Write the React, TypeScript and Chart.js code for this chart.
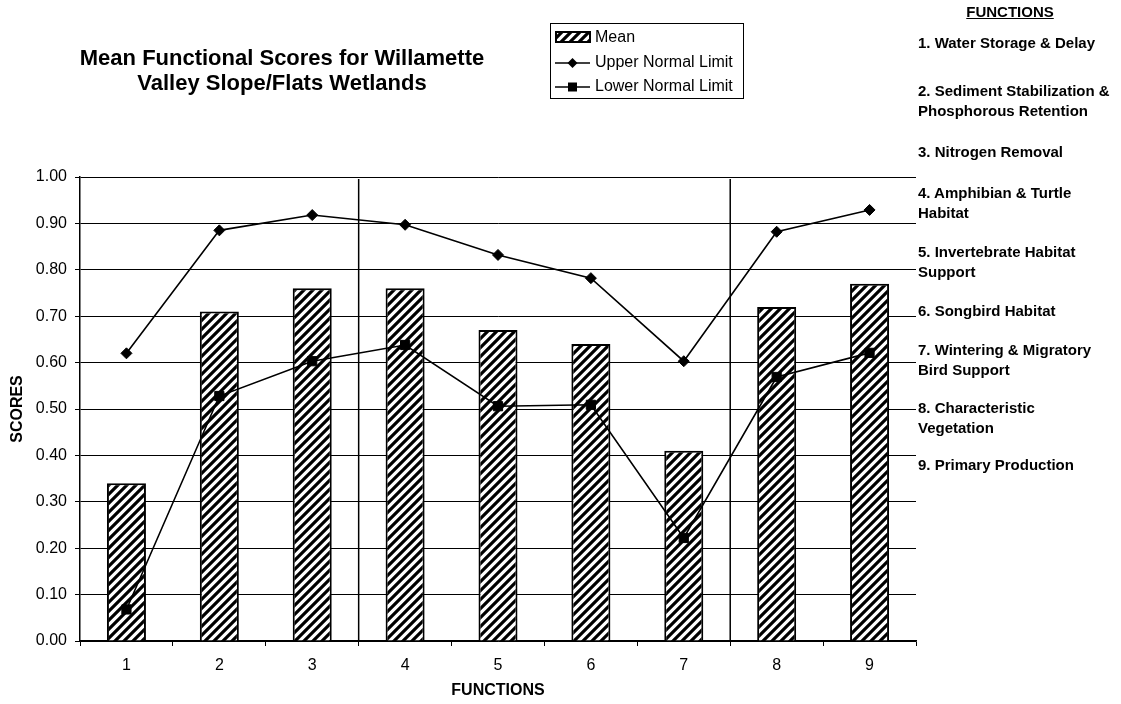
import { useEffect, useRef } from "react";
import { Chart, registerables } from "chart.js";

Chart.register(...registerables);

// ---------- data ----------
const categories = ["1", "2", "3", "4", "5", "6", "7", "8", "9"];
const meanScores = [0.34, 0.71, 0.76, 0.76, 0.67, 0.64, 0.41, 0.72, 0.77];
const upperNormalLimit = [0.62, 0.885, 0.918, 0.897, 0.832, 0.782, 0.603, 0.882, 0.929];
const lowerNormalLimit = [0.068, 0.528, 0.603, 0.638, 0.506, 0.509, 0.222, 0.569, 0.621];
const groupBreaksAfter = [3, 7];
const titleLines = ["Mean Functional Scores for Willamette", "Valley Slope/Flats Wetlands"];
const functionListTitle = "FUNCTIONS";
const functionList = [
  ["1. Water Storage & Delay"],
  ["2. Sediment Stabilization &", "Phosphorous Retention"],
  ["3. Nitrogen Removal"],
  ["4. Amphibian & Turtle", "Habitat"],
  ["5. Invertebrate Habitat", "Support"],
  ["6. Songbird Habitat"],
  ["7. Wintering & Migratory", "Bird Support"],
  ["8. Characteristic", "Vegetation"],
  ["9. Primary Production"],
];

// layout (first-line centre of each list entry)
const listCenters = [43, 91, 152, 193, 252, 311, 350, 408, 465];
const FONT = '"Liberation Sans", Arial, Helvetica, sans-serif';

function makeHatch(): CanvasPattern | string {
  const s = 9;
  const c = document.createElement("canvas");
  c.width = s;
  c.height = s;
  const g = c.getContext("2d");
  if (!g) return "#fff";
  g.fillStyle = "#fff";
  g.fillRect(0, 0, s, s);
  g.strokeStyle = "#000";
  g.lineWidth = 3.2;
  g.beginPath();
  g.moveTo(0, s);
  g.lineTo(s, 0);
  g.moveTo(-2, 2);
  g.lineTo(2, -2);
  g.moveTo(s - 2, s + 2);
  g.lineTo(s + 2, s - 2);
  g.stroke();
  const p = g.createPattern(c, "repeat");
  return p || "#000";
}

export default function App() {
  const ref = useRef<HTMLCanvasElement>(null);

  useEffect(() => {
    const canvas = ref.current;
    if (!canvas) return;
    const hatch = makeHatch();

    const separators = {
      id: "separators",
      beforeDatasetsDraw(chart: any) {
        const x = chart.scales.x;
        const { top, bottom } = chart.chartArea;
        const ctx = chart.ctx;
        ctx.save();
        ctx.strokeStyle = "#000";
        ctx.lineWidth = 1.5;
        groupBreaksAfter.forEach((b) => {
          const px = (x.getPixelForValue(b - 1) + x.getPixelForValue(b)) / 2;
          ctx.beginPath();
          ctx.moveTo(px, top + 2);
          ctx.lineTo(px, bottom);
          ctx.stroke();
        });
        ctx.restore();
      },
    };

    const boxLegend = {
      id: "boxLegend",
      afterDraw(chart: any) {
        const ctx = chart.ctx;
        const ds = chart.data.datasets;
        const mean = ds.find((d: any) => d.type === "bar");
        const lines = ds.filter((d: any) => d.type === "line");
        ctx.save();
        ctx.strokeStyle = "#000";
        ctx.lineWidth = 1;
        ctx.strokeRect(550.5, 23.5, 193, 75);
        ctx.font = `16px ${FONT}`;
        ctx.textBaseline = "middle";
        ctx.textAlign = "left";
        // bar swatch
        ctx.fillStyle = hatch as any;
        ctx.fillRect(556, 32, 34, 10);
        ctx.lineWidth = 2;
        ctx.strokeRect(556, 32, 34, 10);
        ctx.fillStyle = "#000";
        ctx.fillText(mean.label, 595, 38);
        const ys = [63, 87];
        lines.forEach((d: any, i: number) => {
          const y = ys[i];
          ctx.lineWidth = 1.6;
          ctx.beginPath();
          ctx.moveTo(555, y);
          ctx.lineTo(590, y);
          ctx.stroke();
          ctx.beginPath();
          if (d.pointStyle === "rectRot") {
            const r = 5;
            ctx.moveTo(572.5 - r, y);
            ctx.lineTo(572.5, y - r);
            ctx.lineTo(572.5 + r, y);
            ctx.lineTo(572.5, y + r);
            ctx.closePath();
          } else {
            ctx.rect(568, y - 4.5, 9, 9);
          }
          ctx.fill();
          ctx.fillText(d.label, 595, y);
        });
        ctx.restore();
      },
    };

    const chart = new Chart(canvas, {
      type: "bar",
      data: {
        labels: categories,
        datasets: [
          {
            type: "line",
            label: "Upper Normal Limit",
            data: upperNormalLimit,
            borderColor: "#000",
            backgroundColor: "#000",
            borderWidth: 1.6,
            pointStyle: "rectRot",
            pointRadius: 5.5,
            pointBorderWidth: 1,
            pointBackgroundColor: "#000",
            pointBorderColor: "#000",
            tension: 0,
            order: 0,
          } as any,
          {
            type: "line",
            label: "Lower Normal Limit",
            data: lowerNormalLimit,
            borderColor: "#000",
            backgroundColor: "#000",
            borderWidth: 1.6,
            pointStyle: "rect",
            pointRadius: 6.5,
            pointBorderWidth: 1,
            pointBackgroundColor: "#000",
            pointBorderColor: "#000",
            tension: 0,
            order: 1,
          } as any,
          {
            type: "bar",
            label: "Mean",
            data: meanScores,
            backgroundColor: hatch as any,
            borderColor: "#000",
            borderWidth: 2,
            barPercentage: 0.42,
            categoryPercentage: 1,
            order: 2,
          } as any,
        ],
      },
      options: {
        responsive: false,
        animation: false,
        layout: { padding: { top: 177, right: 205, left: 0, bottom: 0 } },
        plugins: {
          legend: { display: false },
          tooltip: { enabled: false },
          title: { display: false },
        },
        scales: {
          x: {
            type: "category",
            offset: true,
            grid: {
              offset: true,
              drawOnChartArea: false,
              drawTicks: true,
              tickLength: 5,
              color: "#000",
              lineWidth: 1,
            },
            border: { color: "#000", width: 1.5 },
            ticks: { color: "#000", font: { family: FONT, size: 16 }, padding: 10 },
            title: {
              display: true,
              text: "FUNCTIONS",
              color: "#000",
              font: { family: FONT, size: 16, weight: "bold" },
              padding: { top: 0, bottom: 4 },
            },
            afterFit: (s: any) => {
              s.height = 63;
            },
          } as any,
          y: {
            min: 0,
            max: 1,
            ticks: {
              stepSize: 0.1,
              callback: (v: any) => Number(v).toFixed(2),
              color: "#000",
              font: { family: FONT, size: 16 },
              padding: 8,
            },
            grid: { color: "#000", lineWidth: 1, tickLength: 5 },
            border: { color: "#000", width: 1.5 },
            title: {
              display: true,
              text: "SCORES",
              color: "#000",
              font: { family: FONT, size: 16, weight: "bold" },
              padding: { top: 8, bottom: 0 },
            },
            afterFit: (s: any) => {
              s.width = 80;
            },
          } as any,
        },
      },
      plugins: [separators, boxLegend],
    });
    return () => chart.destroy();
  }, []);

  const lh = 19.5;
  return (
    <div
      style={{
        position: "fixed",
        left: 0,
        top: 0,
        width: 1121,
        height: 704,
        background: "#fff",
        overflow: "hidden",
        fontFamily: FONT,
        color: "#000",
      }}
    >
      <canvas ref={ref} width={1121} height={704} style={{ position: "absolute", left: 0, top: 0 }} />
      <div
        style={{
          position: "absolute",
          left: 32,
          top: 45,
          width: 500,
          textAlign: "center",
          fontWeight: "bold",
          fontSize: 22,
          lineHeight: "25px",
        }}
      >
        {titleLines.map((t, i) => (
          <div key={i}>{t}</div>
        ))}
      </div>
      <div
        style={{
          position: "absolute",
          left: 940,
          top: 3,
          width: 140,
          textAlign: "center",
          fontWeight: "bold",
          fontSize: 15,
          lineHeight: "18px",
          textDecoration: "underline",
        }}
      >
        {functionListTitle}
      </div>
      {functionList.map((lines, i) => (
        <div
          key={i}
          style={{
            position: "absolute",
            left: 918,
            top: listCenters[i] - lh / 2,
            fontWeight: "bold",
            fontSize: 15,
            lineHeight: `${lh}px`,
            whiteSpace: "nowrap",
          }}
        >
          {lines.map((l, j) => (
            <div key={j}>{l}</div>
          ))}
        </div>
      ))}
    </div>
  );
}
